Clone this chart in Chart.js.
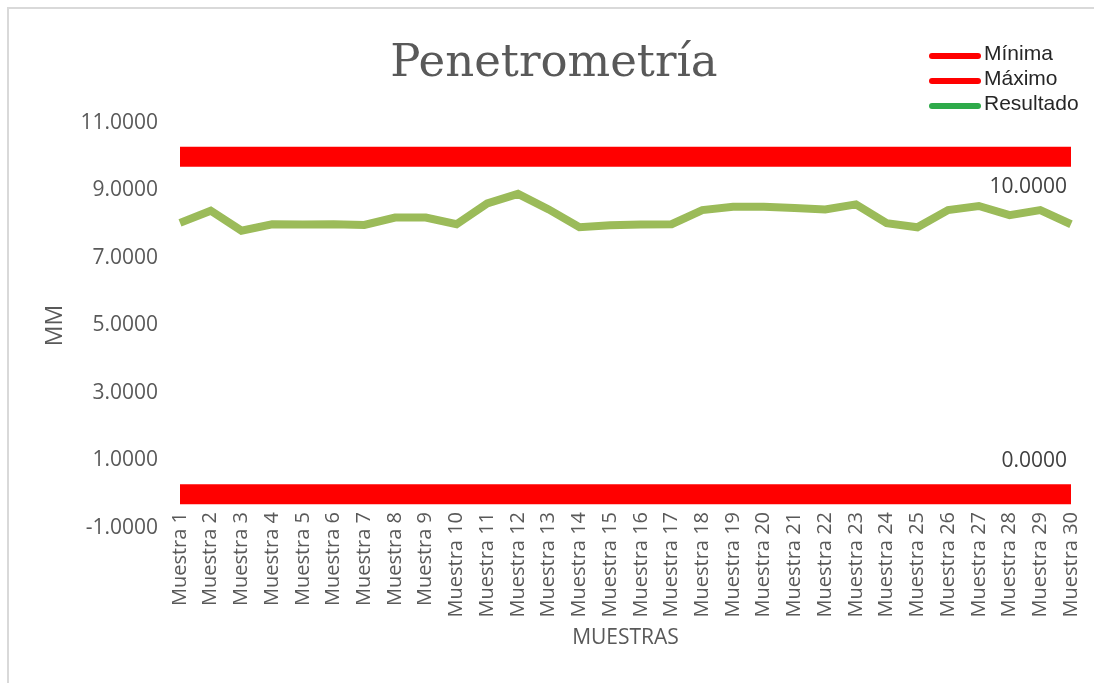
<!DOCTYPE html>
<html>
<head>
<meta charset="utf-8">
<script src="https://cdn.jsdelivr.net/npm/chart.js@4/dist/chart.umd.min.js"></script>
<style>
  html, body { margin: 0; padding: 0; background: #fff; }
  #wrap { position: relative; width: 1094px; height: 683px; }
  #frame { position: absolute; left: 7px; top: 7px; right: -10px; bottom: -10px;
           border-left: 2px solid #d9d9d9; border-top: 2px solid #d9d9d9; pointer-events: none; }
</style>
</head>
<body>
<div id="wrap">
  <canvas id="chart_pen" width="1094" height="683"></canvas>
  <div id="frame"></div>
</div>
<script>
const TITLE = 'Penetrometría';
const X_TITLE = 'MUESTRAS';

const muestras = ['Muestra 1','Muestra 2','Muestra 3','Muestra 4','Muestra 5','Muestra 6','Muestra 7','Muestra 8','Muestra 9','Muestra 10',
  'Muestra 11','Muestra 12','Muestra 13','Muestra 14','Muestra 15','Muestra 16','Muestra 17','Muestra 18','Muestra 19','Muestra 20',
  'Muestra 21','Muestra 22','Muestra 23','Muestra 24','Muestra 25','Muestra 26','Muestra 27','Muestra 28','Muestra 29','Muestra 30'];

const minima = [0,0,0,0,0,0,0,0,0,0, 0,0,0,0,0,0,0,0,0,0, 0,0,0,0,0,0,0,0,0,0];
const maximo = [10,10,10,10,10,10,10,10,10,10, 10,10,10,10,10,10,10,10,10,10, 10,10,10,10,10,10,10,10,10,10];
const resultado = [8.04, 8.40, 7.81, 8.00, 7.99, 8.00, 7.98, 8.20, 8.20, 8.00,
  8.62, 8.90, 8.44, 7.91, 7.97, 7.99, 8.00, 8.42, 8.52, 8.52,
  8.48, 8.44, 8.59, 8.03, 7.91, 8.42, 8.54, 8.27, 8.42, 8.00];

const yTicks = [-1, 1, 3, 5, 7, 9, 11];

const fmt = (v) => Number(v).toFixed(4);

// titulo, leyenda, titulo eje X y etiquetas del ultimo punto
const deco = {
  id: 'deco',
  afterDraw(chart) {
    const { ctx, chartArea } = chart;
    ctx.save();

    ctx.fillStyle = '#595959';
    ctx.font = '45px "DejaVu Serif"';
    ctx.textAlign = 'center';
    ctx.textBaseline = 'alphabetic';
    ctx.fillText(TITLE, 554, 76);

    ctx.font = '21px "Open Sans"';
    ctx.textBaseline = 'middle';
    ctx.fillText(X_TITLE, (chartArea.left + chartArea.right) / 2, 638);

    // leyenda
    const legendColors = ['#ff0000', '#ff0000', '#2eaa4a'];
    chart.data.datasets.forEach((ds, i) => {
      const y = 54 + i * 25;
      ctx.strokeStyle = legendColors[i];
      ctx.lineWidth = 6;
      ctx.lineCap = 'round';
      ctx.beginPath();
      ctx.moveTo(932, y + 2);
      ctx.lineTo(978, y + 2);
      ctx.stroke();
      ctx.fillStyle = '#262626';
      ctx.font = '21px "Liberation Sans"';
      ctx.textAlign = 'left';
      ctx.textBaseline = 'middle';
      ctx.fillText(ds.label, 984, y);
    });

    // etiquetas de datos (Mínima / Máximo)
    ctx.fillStyle = '#404040';
    ctx.font = '21px "Open Sans"';
    ctx.textAlign = 'right';
    ctx.textBaseline = 'middle';
    [0, 1].forEach(di => {
      const meta = chart.getDatasetMeta(di);
      const last = meta.data[meta.data.length - 1];
      const v = chart.data.datasets[di].data[meta.data.length - 1];
      const dy = di === 1 ? 30 : -33;
      ctx.fillText(fmt(v), last.x - 4, last.y + dy);
    });

    ctx.restore();
  }
};

new Chart(document.getElementById('chart_pen'), {
  type: 'line',
  data: {
    labels: muestras,
    datasets: [
      { label: 'Mínima', data: minima, borderColor: '#ff0000', borderWidth: 20, pointRadius: 0, borderCapStyle: 'butt' },
      { label: 'Máximo', data: maximo, borderColor: '#ff0000', borderWidth: 20, pointRadius: 0, borderCapStyle: 'butt' },
      { label: 'Resultado', data: resultado, borderColor: '#9bbb59', borderWidth: 8, pointRadius: 0, tension: 0 }
    ]
  },
  options: {
    responsive: false,
    animation: false,
    layout: { padding: { top: 123, right: 23, left: 0, bottom: 155 } },
    plugins: {
      legend: { display: false },
      tooltip: { enabled: false }
    },
    scales: {
      x: {
        position: { y: -1 },
        offset: false,
        grid: { display: false },
        border: { display: false },
        ticks: {
          autoSkip: false,
          minRotation: 90,
          maxRotation: 90,
          padding: -24,
          color: '#595959',
          font: { family: 'Open Sans', size: 20 }
        }
      },
      y: {
        min: -1,
        max: 11,
        afterFit: (s) => { s.width = 180; },
        afterBuildTicks: (s) => { s.ticks = yTicks.map(v => ({ value: v })); },
        grid: { display: false },
        border: { display: false },
        ticks: {
          padding: 14,
          color: '#595959',
          font: { family: 'Open Sans', size: 21 },
          callback: (v) => fmt(v)
        },
        title: {
          display: true,
          text: 'MM',
          color: '#595959',
          font: { family: 'Open Sans', size: 23 },
          padding: { top: 42, bottom: 20 }
        }
      }
    }
  },
  plugins: [deco]
});
</script>
</body>
</html>
